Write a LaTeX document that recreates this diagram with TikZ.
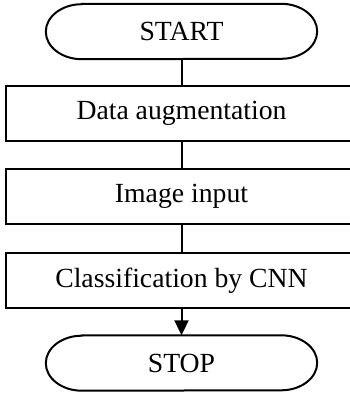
\documentclass[tikz,border=0pt]{standalone}
\usepackage{fontspec}
\setmainfont{Liberation Serif}
\usetikzlibrary{arrows.meta}
\tikzstyle{Term}=[minimum width=271pt,minimum height=55pt,
font=\fontsize{27.7}{30}\selectfont]
\tikzstyle{StepBox}=[draw,minimum width=351pt,minimum height=55pt,
line width=2pt,font=\fontsize{27.7}{30}\selectfont]
\tikzstyle{Edge}=[draw,line width=2pt]
\newcommand{\TermOutline}[1]{%
    \draw[Edge]([xshift=36pt]#1.north west)--([xshift=-36pt]#1.north east)
        arc[start angle=90,end angle=-90,x radius=36pt,y radius=27.5pt]
        --([xshift=36pt]#1.south west)
        arc[start angle=270,end angle=90,x radius=36pt,y radius=27.5pt]
        --cycle;}
\begin{document}
\begin{tikzpicture}[x=1pt,y=1pt]
            \useasboundingbox(0,0)rectangle(350,-394);
            \node[Term](start)at(181.5,-31.5){START};
            \node[StepBox](aug)at(181.5,-113.5){Data augmentation};
            \node[StepBox](img)at(181.5,-196.5){Image input};
            \node[StepBox](cnn)at(181.5,-280.5){Classification by CNN};
            \node[Term](stop)at(181.5,-363){STOP};
            \TermOutline{start}
            \TermOutline{stop}
            \draw[Edge](start)--(aug);
            \draw[Edge](aug)--(img);
            \draw[Edge](img)--(cnn);
            \draw[Edge,-{Triangle[width=14pt,length=15pt]}](cnn)--(stop);
        \end{tikzpicture}
\end{document}
